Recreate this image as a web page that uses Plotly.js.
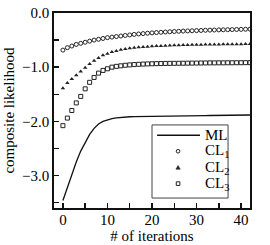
<!DOCTYPE html>
<html><head><meta charset="utf-8">
<script src="https://cdn.plot.ly/plotly-3.0.1.min.js"></script>
<style>html,body{margin:0;padding:0;background:#fff}#c{width:270px;height:245px}</style>
</head><body><div id="c"></div>
<script>
var iters = [];
for (var i = 0; i <= 42; i++) iters.push(i);
var mlValues = [-3.46,-3.22,-2.98,-2.75,-2.55,-2.38,-2.24,-2.13,-2.05,-2.00,-1.97,-1.95,-1.935,-1.925,-1.92,-1.915,-1.912,-1.91,-1.908,-1.906,-1.905,-1.904,-1.903,-1.902,-1.901,-1.900,-1.899,-1.898,-1.897,-1.896,-1.895,-1.894,-1.893,-1.892,-1.891,-1.890,-1.889,-1.888,-1.887,-1.886,-1.885,-1.884,-1.883];
var cl1Values = [-0.685,-0.64,-0.61,-0.58,-0.56,-0.54,-0.52,-0.50,-0.485,-0.47,-0.455,-0.445,-0.435,-0.425,-0.415,-0.405,-0.395,-0.387,-0.38,-0.373,-0.367,-0.361,-0.356,-0.351,-0.346,-0.342,-0.338,-0.334,-0.331,-0.328,-0.325,-0.322,-0.319,-0.316,-0.314,-0.312,-0.31,-0.308,-0.306,-0.304,-0.302,-0.30,-0.298];
var cl2Values = [-1.39,-1.29,-1.22,-1.15,-1.08,-1.01,-0.94,-0.88,-0.83,-0.78,-0.75,-0.72,-0.70,-0.68,-0.665,-0.652,-0.642,-0.634,-0.627,-0.621,-0.616,-0.611,-0.607,-0.603,-0.60,-0.597,-0.594,-0.592,-0.59,-0.588,-0.586,-0.584,-0.583,-0.582,-0.581,-0.58,-0.579,-0.578,-0.577,-0.576,-0.575,-0.574,-0.573];
var cl3Values = [-2.08,-1.94,-1.80,-1.66,-1.54,-1.40,-1.28,-1.19,-1.11,-1.06,-1.03,-1.00,-0.985,-0.975,-0.965,-0.958,-0.952,-0.947,-0.943,-0.94,-0.937,-0.935,-0.933,-0.931,-0.93,-0.929,-0.928,-0.927,-0.926,-0.925,-0.924,-0.923,-0.922,-0.921,-0.921,-0.92,-0.92,-0.919,-0.919,-0.918,-0.918,-0.917,-0.917];
var seriesNames = ['ML','CL<sub>1</sub>','CL<sub>2</sub>','CL<sub>3</sub>'];
var xTickVals = [0,10,20,30,40];
var yTickVals = [0,-1,-2,-3];
var yTickText = ['0.0','\u22121.0','\u22122.0','\u22123.0'];

var mk = function(sym){ return {symbol: sym, size: 4, color: '#fff', line: {color: '#222', width: 1}}; };
var data = [
  {x: iters, y: mlValues, name: seriesNames[0], mode: 'lines', line: {color: '#111', width: 1.3}},
  {x: iters, y: cl1Values, name: seriesNames[1], mode: 'markers', marker: mk('circle')},
  {x: iters, y: cl2Values, name: seriesNames[2], mode: 'markers', marker: {symbol:'triangle-up', size: 4, color:'#222', line: {width: 0}}},
  {x: iters, y: cl3Values, name: seriesNames[3], mode: 'markers', marker: mk('square')}
];
var font = {family: 'Liberation Serif, Times New Roman, serif', size: 15, color: '#000'};

// manual legend (paper coordinates)
var legX0 = 0.5, legX1 = 0.888, legY0 = 0.051, legY1 = 0.426;
var rowY = [0.373, 0.291, 0.207, 0.125];
var symX = 0.633, textX = 0.768;
var shapes = [
  {type: 'rect', xref: 'paper', yref: 'paper', x0: legX0, x1: legX1, y0: legY0, y1: legY1, line: {color: '#444', width: 1}, fillcolor: '#fff', layer: 'above'},
  {type: 'line', xref: 'paper', yref: 'paper', x0: 0.526, x1: 0.745, y0: rowY[0], y1: rowY[0], line: {color: '#111', width: 1.3}, layer: 'above'},
  {type: 'circle', xref: 'paper', yref: 'paper', xsizemode: 'pixel', ysizemode: 'pixel', xanchor: symX, yanchor: rowY[1], x0: -1.8, x1: 1.8, y0: -1.8, y1: 1.8, line: {color: '#222', width: 1}, fillcolor: '#fff', layer: 'above'},
  {type: 'path', xref: 'paper', yref: 'paper', xsizemode: 'pixel', ysizemode: 'pixel', xanchor: symX, yanchor: rowY[2], path: 'M-2.2,-1.6 L2.2,-1.6 L0,2.2 Z', line: {color: '#222', width: 0.5}, fillcolor: '#222', layer: 'above'},
  {type: 'rect', xref: 'paper', yref: 'paper', xsizemode: 'pixel', ysizemode: 'pixel', xanchor: symX, yanchor: rowY[3], x0: -1.8, x1: 1.8, y0: -1.8, y1: 1.8, line: {color: '#222', width: 1}, fillcolor: '#fff', layer: 'above'}
];
var annotations = seriesNames.map(function(n, k){
  return {xref: 'paper', yref: 'paper', x: textX, y: rowY[k], text: n, showarrow: false, xanchor: 'left', yanchor: 'middle',
          font: {family: font.family, size: 15, color: '#000'}, xshift: -2};
});

var layout = {
  width: 270, height: 245,
  margin: {l: 54, r: 20, t: 13, b: 37},
  paper_bgcolor: '#fff', plot_bgcolor: '#fff',
  font: font,
  showlegend: false,
  shapes: shapes,
  annotations: annotations,
  xaxis: {range: [-2, 42], tickvals: xTickVals, ticks: 'inside', ticklen: 5, tickwidth: 1.4, tickcolor: '#111',
          showline: true, linecolor: '#111', linewidth: 1.8, mirror: true, showgrid: false, zeroline: false,
          ticklabelstandoff: -3,
          minor: {dtick: 5, tick0: 0, ticks: 'inside', ticklen: 5, tickwidth: 1.4, tickcolor: '#111'},
          title: {text: '# of iterations', font: font, standoff: 0}},
  yaxis: {range: [-3.6, 0], tickvals: yTickVals, ticktext: yTickText, ticks: 'inside', ticklen: 5, tickwidth: 1.4, tickcolor: '#111',
          showline: true, linecolor: '#111', linewidth: 1.8, mirror: true, showgrid: false, zeroline: false,
          minor: {dtick: 0.5, tick0: 0, ticks: 'inside', ticklen: 5, tickwidth: 1.4, tickcolor: '#111'},
          title: {text: 'composite likelihood', font: font, standoff: 4}}
};
Plotly.newPlot('c', data, layout, {staticPlot: true, displayModeBar: false});
</script></body></html>
